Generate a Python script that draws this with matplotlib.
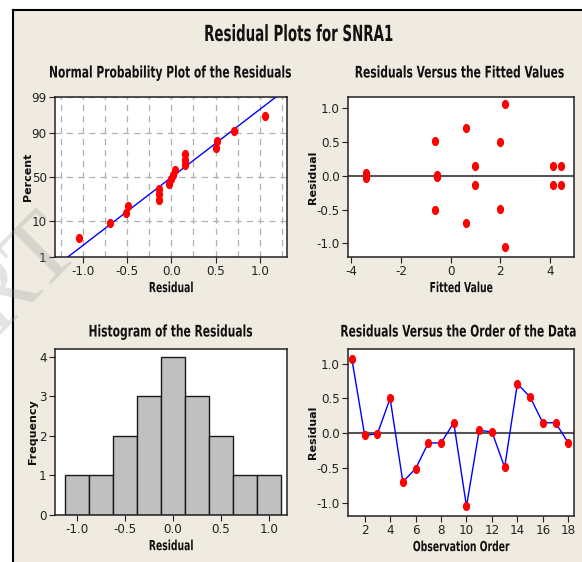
import numpy as np
import matplotlib
matplotlib.use('Agg')
import matplotlib.pyplot as plt
from matplotlib.patches import Rectangle
from matplotlib.lines import Line2D
from matplotlib.path import Path
from matplotlib.ticker import MultipleLocator, NullLocator, FixedLocator, FormatStrFormatter
from matplotlib.patheffects import AbstractPathEffect
from matplotlib.transforms import Affine2D
from statistics import NormalDist

# ---------------- data ----------------
residuals = [1.06, -0.03, -0.01, 0.50, -0.70, -0.51, -0.14, -0.14, 0.15,
             -1.05, 0.04, 0.02, -0.49, 0.71, 0.52, 0.15, 0.15, -0.14]
run_fits = [2.18, -3.40, -0.55, 2.01, 0.61, -0.63, 0.97, 4.13, 4.43]
fitted = run_fits * 2
order = list(range(1, 19))
pct_ticks = [1, 10, 50, 90, 99]
hist_edges = [-1.125, -0.875, -0.625, -0.375, -0.125, 0.125, 0.375, 0.625, 0.875, 1.125]

main_title = "Residual Plots for SNRA1"
titles = ["Normal Probability Plot of the Residuals",
          "Residuals Versus the Fitted Values",
          "Histogram of the Residuals",
          "Residuals Versus the Order of the Data"]

# ---------------- style ----------------
W, H = 582, 562
BG = '#EFEBE1'
FAM = ['DejaVu Sans']
plt.rcParams['font.family'] = FAM
plt.rcParams['font.stretch'] = 'condensed'
plt.rcParams['axes.unicode_minus'] = False


class HSqueeze(AbstractPathEffect):
    """Narrow the glyph outlines horizontally about a fixed x (display px)."""
    def __init__(self, sx, cx):
        super().__init__()
        self.sx = sx
        self.cx = cx

    def draw_path(self, renderer, gc, tpath, affine, rgbFace=None):
        a = affine + Affine2D().translate(-self.cx, 0).scale(self.sx, 1).translate(self.cx, 0)
        renderer.draw_path(gc, tpath, a, rgbFace)


fig = plt.figure(figsize=(W / 100, H / 100), dpi=100)
fig.patch.set_facecolor('white')

def px_rect(l, t, r, b):
    return [l / W, 1 - b / H, (r - l) / W, (b - t) / H]

# beige frame
fig.patches.append(Rectangle((13 / W, 0), 1 - 13 / W, 1 - 10 / H, transform=fig.transFigure,
                             facecolor=BG, edgecolor='none', zorder=-5))
fig.lines.append(Line2D([13 / W, 1], [1 - 10 / H, 1 - 10 / H], transform=fig.transFigure,
                        color='black', lw=1.5, zorder=-4))
fig.lines.append(Line2D([13 / W, 13 / W], [0, 1 - 10 / H], transform=fig.transFigure,
                        color='black', lw=1.5, zorder=-4))

t = fig.text(299 / W, 1 - 35 / H, main_title, ha='center', va='center',
             fontsize=16, fontweight='bold', fontstretch='condensed', color='#111111')
t.set_path_effects([HSqueeze(0.67, 299)])

def style_axes(ax):
    for s in ax.spines.values():
        s.set_linewidth(1.1)
        s.set_color('#222222')
    ax.tick_params(direction='out', length=4, width=0.8, labelsize=9.5, pad=2,
                   top=False, right=False, colors='#222222')

def fig_title(x, y, s):
    tt = fig.text(x / W, 1 - y / H, s, ha='center', va='center', fontsize=11.5,
                  fontweight='bold', fontstretch='condensed', color='#111111')
    tt.set_path_effects([HSqueeze(0.745, x)])

def ylab(ax, s, xfrac):
    ax.set_ylabel(s, fontsize=8, fontweight='bold', fontstretch='normal', color='#111111')
    ax.yaxis.set_label_coords(xfrac, 0.5)

def xlab(ax, s, l, r):
    lab = ax.set_xlabel(s, fontsize=10, fontweight='bold', fontstretch='condensed',
                        labelpad=2, color='#111111')
    lab.set_path_effects([HSqueeze(0.74, (l + r) / 2)])

nd = NormalDist()
fwd = np.vectorize(lambda p: nd.inv_cdf(min(max(p / 100.0, 1e-9), 1 - 1e-9)), otypes=[float])
inv = np.vectorize(lambda z: nd.cdf(z) * 100.0, otypes=[float])

DOT = Path.unit_circle().transformed(Affine2D().scale(0.75, 1.0))
MS = 5.6
RED = '#FF0000'
BLUE = '#0000FF'

def dots(ax, x, y):
    ax.plot(x, y, linestyle='none', marker=DOT, color=RED, ms=MS, mec=RED, zorder=4)

# ---------- 1: normal probability plot ----------
L, T, R, B = 55, 97, 287, 257
ax1 = fig.add_axes(px_rect(L, T, R, B))
ax1.set_facecolor('white')
ax1.set_yscale('function', functions=(fwd, inv))
r_sorted = np.sort(residuals)
n = len(r_sorted)
pct = (np.arange(1, n + 1) - 0.3) / (n + 0.4) * 100
mu = float(np.mean(residuals))
sd = float(np.std(residuals, ddof=1))
zz = np.linspace(nd.inv_cdf(0.005), nd.inv_cdf(0.995), 100)
ax1.plot(mu + sd * zz, [nd.cdf(z) * 100 for z in zz], color=BLUE, lw=1.0, zorder=3)
dots(ax1, r_sorted, pct)
ax1.set_xlim(-1.32, 1.31)
ax1.set_ylim(1, 99)
ax1.yaxis.set_major_locator(FixedLocator(pct_ticks))
ax1.yaxis.set_minor_locator(NullLocator())
ax1.yaxis.set_major_formatter(FormatStrFormatter('%d'))
ax1.xaxis.set_major_locator(MultipleLocator(0.5))
ax1.xaxis.set_minor_locator(MultipleLocator(0.25))
ax1.xaxis.set_major_formatter(FormatStrFormatter('%.1f'))
ax1.tick_params(axis='x', which='minor', length=0)
ax1.grid(True, axis='x', which='both', ls=(0, (5, 4)), color='#b0b0b0', lw=0.9, zorder=0)
ax1.grid(True, axis='y', which='major', ls=(0, (5, 4)), color='#b0b0b0', lw=0.9, zorder=0)
ax1.set_axisbelow(True)
style_axes(ax1)
ylab(ax1, 'Percent', -0.095)
xlab(ax1, 'Residual', L, R)
fig_title(171, 73, titles[0])

# ---------- 2: residuals vs fitted ----------
L, T, R, B = 348, 97, 574, 257
ax2 = fig.add_axes(px_rect(L, T, R, B))
ax2.set_facecolor('white')
ax2.axhline(0, color='#555555', lw=1.5, zorder=2)
dots(ax2, fitted, residuals)
ax2.set_xlim(-4.13, 4.97)
ax2.set_ylim(-1.2, 1.17)
ax2.xaxis.set_major_locator(MultipleLocator(2))
ax2.yaxis.set_major_locator(MultipleLocator(0.5))
ax2.yaxis.set_major_formatter(FormatStrFormatter('%.1f'))
style_axes(ax2)
ylab(ax2, 'Residual', -0.133)
xlab(ax2, 'Fitted Value', L, R)
fig_title(460, 73, titles[1])

# ---------- 3: histogram ----------
L, T, R, B = 55, 349, 287, 515
ax3 = fig.add_axes(px_rect(L, T, R, B))
ax3.set_facecolor('white')
ax3.hist(residuals, bins=hist_edges, color='#C0C0C0', edgecolor='#1a1a1a', linewidth=1.0)
ax3.set_xlim(-1.233, 1.19)
ax3.set_ylim(0, 4.2)
ax3.xaxis.set_major_locator(MultipleLocator(0.5))
ax3.xaxis.set_major_formatter(FormatStrFormatter('%.1f'))
ax3.yaxis.set_major_locator(MultipleLocator(1))
style_axes(ax3)
ylab(ax3, 'Frequency', -0.073)
xlab(ax3, 'Residual', L, R)
fig_title(171, 332, titles[2])

# ---------- 4: residuals vs order ----------
L, T, R, B = 348, 349, 574, 516
ax4 = fig.add_axes(px_rect(L, T, R, B))
ax4.set_facecolor('white')
ax4.axhline(0, color='#555555', lw=1.5, zorder=2)
ax4.plot(order, residuals, '-', color=BLUE, lw=1.0, zorder=3)
dots(ax4, order, residuals)
ax4.set_xlim(0.69, 18.45)
ax4.set_ylim(-1.19, 1.21)
ax4.xaxis.set_major_locator(MultipleLocator(2))
ax4.yaxis.set_major_locator(MultipleLocator(0.5))
ax4.yaxis.set_major_formatter(FormatStrFormatter('%.1f'))
style_axes(ax4)
ylab(ax4, 'Residual', -0.133)
xlab(ax4, 'Observation Order', L, R)
fig_title(459, 332, titles[3])

# watermark
fig.text(66 / W, 1 - 232 / H, 'IJERT', rotation=45, rotation_mode='anchor',
         ha='right', va='center', fontsize=72, family=['Liberation Serif', 'DejaVu Serif'],
         fontstretch='normal', color='#909090', alpha=0.25, zorder=10)

fig.savefig('out.png', dpi=100, facecolor=fig.get_facecolor())
